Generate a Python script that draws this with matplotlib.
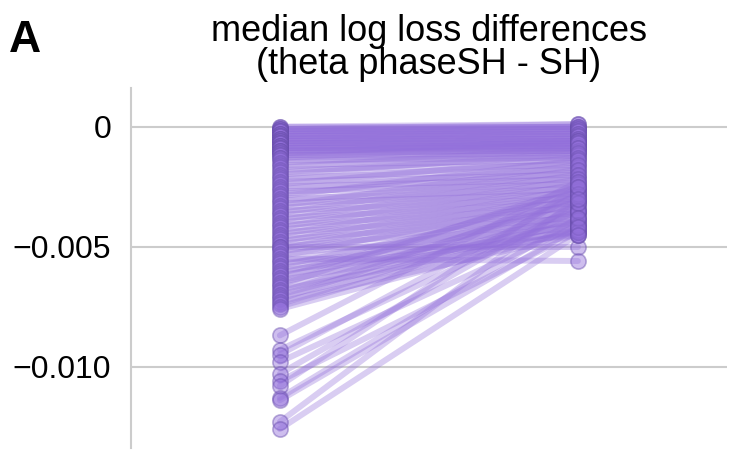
import matplotlib
matplotlib.use('Agg')
import matplotlib.pyplot as plt

# median log loss difference per subject, two conditions
left_vals = [
    0.0000, 0.0000, -0.0001, -0.0001, -0.0001, -0.0002, -0.0002, -0.0002,
    -0.0003, -0.0003, -0.0003, -0.0004, -0.0004, -0.0004, -0.0005, -0.0005,
    -0.0005, -0.0006, -0.0006, -0.0006, -0.0007, -0.0007, -0.0007, -0.0008,
    -0.0008, -0.0008, -0.0009, -0.0009, -0.0009, -0.0010, -0.0010, -0.0010,
    -0.0011, -0.0011, -0.0012, -0.0012, -0.0013, -0.0013, -0.0014, -0.0015,
    -0.0016, -0.0017, -0.0018, -0.0019, -0.0020, -0.0021, -0.0022, -0.0023,
    -0.0024, -0.0025, -0.0026, -0.0027, -0.0028, -0.0029, -0.0030, -0.0031,
    -0.0032, -0.0033, -0.0034, -0.0035, -0.0036, -0.0037, -0.0038, -0.0039,
    -0.0040, -0.0041, -0.0042, -0.0043, -0.0044, -0.0045, -0.0046, -0.0047,
    -0.0048, -0.0049, -0.0050, -0.0050, -0.0051, -0.0052, -0.0053, -0.0054,
    -0.0055, -0.0056, -0.0057, -0.0058, -0.0059, -0.0060, -0.0061, -0.0062,
    -0.0063, -0.0064, -0.0065, -0.0066, -0.0067, -0.0068, -0.0069, -0.0070,
    -0.0071, -0.0072, -0.0073, -0.0074, -0.0075, -0.0076,
    -0.0087, -0.0093, -0.0095, -0.0098, -0.0103, -0.0106, -0.0108, -0.0113,
    -0.0114, -0.0123, -0.0126,
]
right_vals = [
    0.0001, 0.0000, 0.0000, -0.0001, 0.0001, -0.0001, -0.0002, 0.0000,
    -0.0002, -0.0003, -0.0001, -0.0003, -0.0004, -0.0002, -0.0004, -0.0005,
    -0.0003, -0.0005, -0.0006, -0.0004, -0.0006, -0.0007, -0.0005, -0.0007,
    -0.0008, -0.0006, -0.0008, -0.0009, -0.0007, -0.0009, -0.0010, -0.0008,
    -0.0010, -0.0006, -0.0011, -0.0009, -0.0012, -0.0007, -0.0013, -0.0010,
    -0.0014, -0.0009, -0.0016, -0.0012, -0.0011, -0.0018, -0.0015, -0.0020,
    -0.0013, -0.0022, -0.0017, -0.0024, -0.0019, -0.0014, -0.0026, -0.0021,
    -0.0028, -0.0016, -0.0023, -0.0030, -0.0018, -0.0025, -0.0032, -0.0020,
    -0.0027, -0.0034, -0.0022, -0.0029, -0.0036, -0.0024, -0.0031, -0.0038,
    -0.0026, -0.0033, -0.0050, -0.0040, -0.0028, -0.0035, -0.0042, -0.0030,
    -0.0056, -0.0037, -0.0044, -0.0032, -0.0039, -0.0045, -0.0034, -0.0041,
    -0.0027, -0.0043, -0.0036, -0.0025, -0.0040, -0.0044, -0.0031, -0.0038,
    -0.0042, -0.0029, -0.0045, -0.0035, -0.0039, -0.0043,
    -0.0023, -0.0035, -0.0028, -0.0041, -0.0032, -0.0044, -0.0025, -0.0038,
    -0.0042, -0.0030, -0.0045,
]

purple = '#9370DB'
edge = '#6a4fae'

fig = plt.figure(figsize=(7.35, 4.5), dpi=100)
ax = fig.add_axes([0.178, 0.004, 0.811, 0.8])

for a, b in zip(left_vals, right_vals):
    ax.plot([0, 1], [a, b], color=purple, alpha=0.35, lw=4.3,
            solid_capstyle='round', zorder=2)
ax.scatter([0] * len(left_vals), left_vals, s=120, color=purple,
           edgecolor=edge, linewidth=1.2, alpha=0.45, zorder=3)
ax.scatter([1] * len(right_vals), right_vals, s=120, color=purple,
           edgecolor=edge, linewidth=1.2, alpha=0.45, zorder=3)

ax.set_xlim(-0.5, 1.5)
ax.set_ylim(-0.0134, 0.0016)
ax.set_yticks([0, -0.005, -0.010])
ax.set_yticklabels(['0', '\u22120.005', '\u22120.010'])
ax.set_xticks([])
ax.yaxis.grid(True, color='#cccccc', lw=1.5, zorder=0)
ax.set_axisbelow(True)
for s in ['top', 'right', 'bottom']:
    ax.spines[s].set_visible(False)
ax.spines['left'].set_color('#cccccc')
ax.spines['left'].set_linewidth(1.5)
ax.tick_params(axis='y', length=0, pad=14, labelsize=23)
for lab in ax.get_yticklabels():
    lab.set_family('Liberation Sans')

ax.set_title('median log loss differences\n(theta phaseSH - SH)',
             fontsize=26, family='Liberation Sans', pad=10, linespacing=0.95)
fig.text(0.012, 0.885, 'A', fontsize=32, fontweight='bold',
         family='Liberation Sans')

fig.savefig('out.png', dpi=100)
